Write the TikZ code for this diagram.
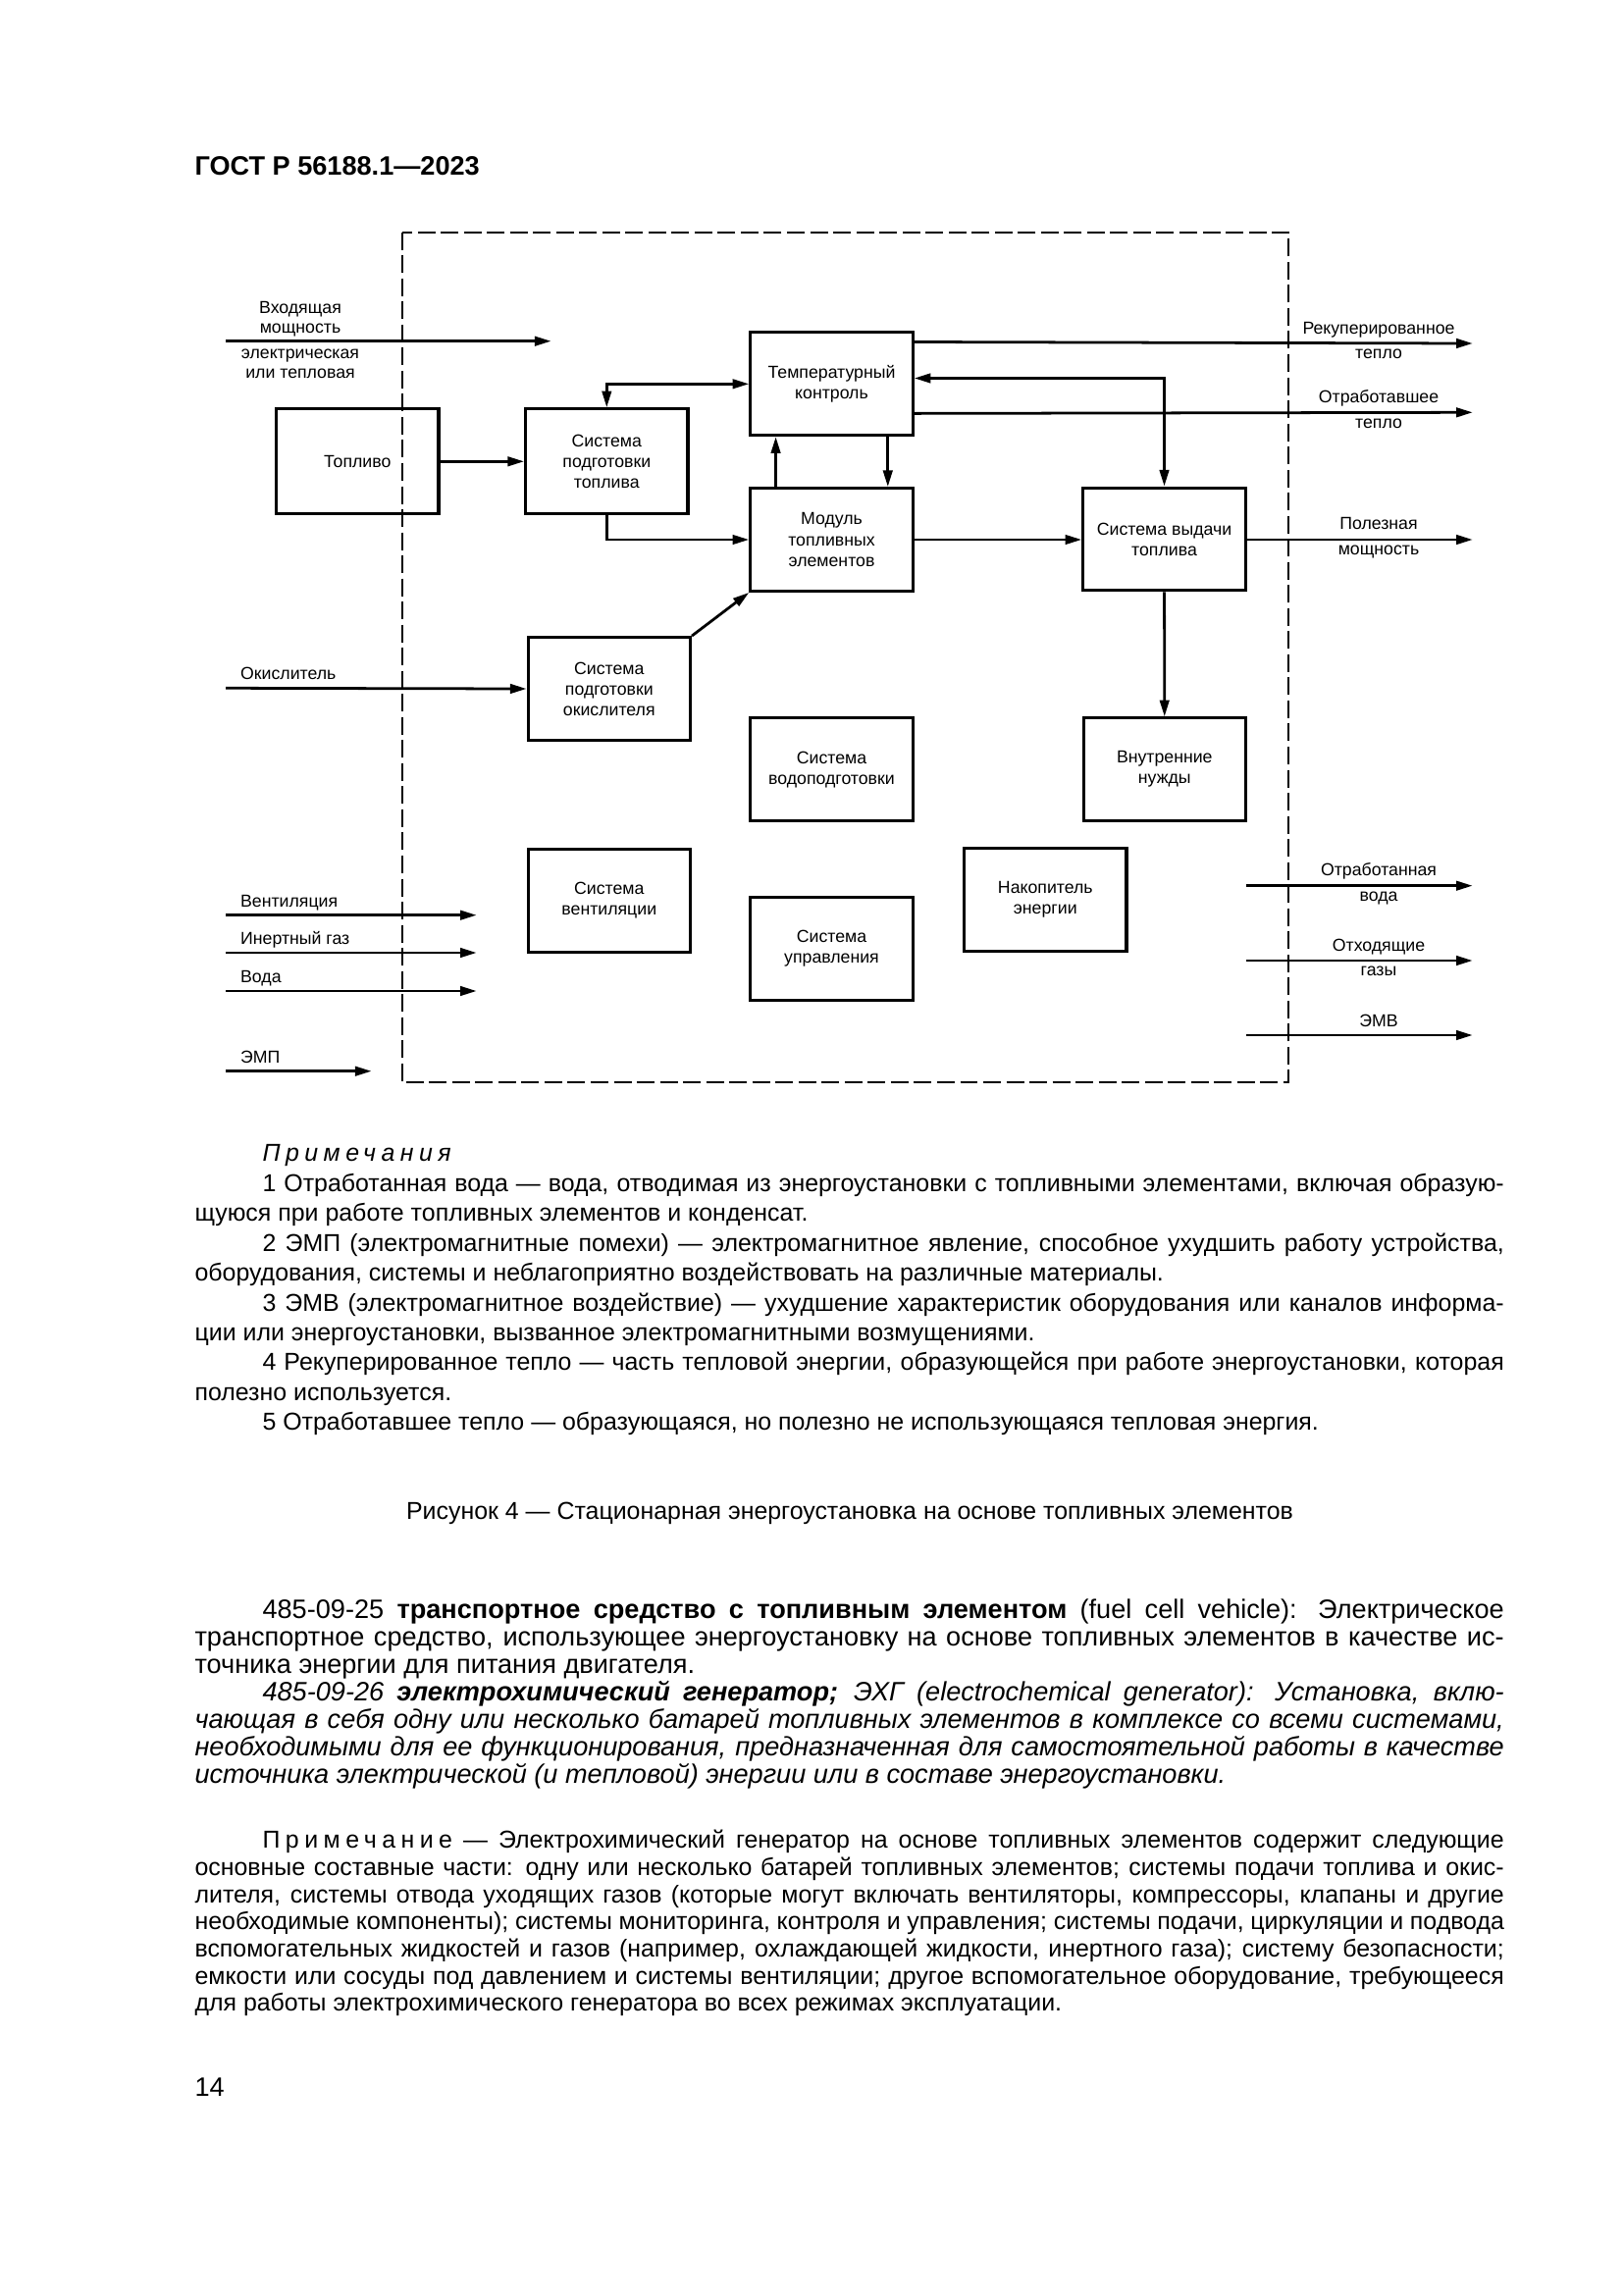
\documentclass[tikz,border=0pt]{standalone}
\usepackage{fontspec}
\setmainfont{Liberation Sans}
\usetikzlibrary{arrows.meta,calc}
\newcommand{\diagfont}{\fontsize{6.4}{7.6}\selectfont}
\newcommand{\notefont}{\fontsize{9}{11}\selectfont}
\newcommand{\bodyfont}{\fontsize{9.8}{10.1}\selectfont}
\newcommand{\spaced}[1]{{\addfontfeature{LetterSpace=22}#1}}
\tolerance=9999
\emergencystretch=3em
\hyphenpenalty=10000
\exhyphenpenalty=10000

\begin{document}
\begin{tikzpicture}[x=0.12697mm,y=-0.12697mm,>={Triangle[length=6pt,width=3.4pt]}]
    \tikzstyle{block}=[draw,line width=1.1pt,minimum width=21mm,minimum height=13.3mm,inner sep=0pt,align=center,font=\diagfont]
    \tikzstyle{flow}=[->,line width=1pt]
    \tikzstyle{annot}=[inner sep=0pt,font=\diagfont]
    \tikzstyle{boundary}=[line width=0.6pt,dash pattern=on 6.5pt off 2pt]
    \tikzstyle{para}=[anchor=base west,inner sep=0pt,text width=169.4mm,align=justify]

    % page
    \fill[white] (0,0) rectangle (1654,2339);
    \useasboundingbox (0,0) rectangle (1654,2339);
    \node[anchor=base west,inner sep=0pt,font=\bfseries\fontsize{9.8}{12}\selectfont] (header) at (198,178.3) {ГОСТ Р 56188.1—2023};

    % Draw the plant boundary
    \draw[boundary] (409.8,236.7) rectangle (1313,1103.3);

    % Draw the blocks
    \node[block,minimum height=13.6mm] (fuel) at (364.3,470.3) {Топливо};
    \node[block,minimum height=13.6mm] (fuelprep) at (618.3,470.3) {Система\\подготовки\\топлива};
    \node[block] (tempctl) at (847.5,391.3) {Температурный\\контроль};
    \node[block] (fcmodule) at (847.5,550) {Модуль\\топливных\\элементов};
    \node[block] (output) at (1186.5,549.5) {Система выдачи\\топлива};
    \node[block] (oxprep) at (620.8,702) {Система\\подготовки\\окислителя};
    \node[block] (waterprep) at (847.5,784.2) {Система\\водоподготовки};
    \node[block] (internal) at (1186.8,784.2) {Внутренние\\нужды};
    \node[block] (vent) at (620.8,917.9) {Система\\вентиляции};
    \node[block] (control) at (847.5,966.7) {Система\\управления};
    \node[block] (storage) at (1065.3,917.2) {Накопитель\\энергии};

    % Connect the blocks
    \draw[flow] (fuel) -- (fuelprep);
    \draw[flow,<->] (fuelprep.north) |- (tempctl.west);
    \draw[flow] (fuelprep.south) |- (fcmodule.west);
    \draw[flow] ($(fcmodule.north west)!0.162!(fcmodule.north east)$) -- ($(tempctl.south west)!0.162!(tempctl.south east)$);
    \draw[flow] ($(tempctl.south west)!0.84!(tempctl.south east)$) -- ($(fcmodule.north west)!0.84!(fcmodule.north east)$);
    \draw[flow] (fcmodule.east) -- (output.west |- fcmodule.east);
    \draw[flow,<->] ($(tempctl.north east)!0.446!(tempctl.south east)$) -| (output.north);
    \draw[flow] (output) -- (internal);
    \draw[flow] (oxprep.north east) -- (fcmodule.south west);

    % Inputs
    \coordinate (pwr-in) at (230,347.7);
    \coordinate (pwr-out) at (561.6,347.7);
    \draw[flow] (pwr-in) -- (pwr-out);
    \node[annot,align=center,anchor=base,font=\fontsize{6.4}{7.3}\selectfont] (pwr-top) at (306,339.6) {Входящая\\мощность};
    \node[annot,align=center,anchor=base,font=\fontsize{6.4}{7.1}\selectfont] (pwr-bot) at (306,385.6) {электрическая\\или тепловая};

    \coordinate (ox-in) at (230,701.3);
    \draw[flow] (ox-in) -- (oxprep.west);
    \node[annot,anchor=base west] (ox-lbl) at (244.6,692.5) {Окислитель};

    \foreach \name/\y/\txt in {vent/932.7/Вентиляция,inert/971/Инертный газ,water/1010/Вода}
    {
        \coordinate (\name-in) at (230,\y);
        \coordinate (\name-out) at (485.7,\y);
        \draw[flow] (\name-in) -- (\name-out);
        \node[annot,anchor=base west] (\name-lbl) at (244.6,\y-8.6) {\txt};
    }

    \coordinate (emp-in) at (230,1091.7);
    \coordinate (emp-out) at (378.6,1091.7);
    \draw[flow] (emp-in) -- (emp-out);
    \node[annot,anchor=base west] (emp-lbl) at (244.6,1083.1) {ЭМП};

    % Outputs
    \coordinate (recov-out) at (1500.8,350);
    \draw[flow] ($(tempctl.north east)!0.103!(tempctl.south east)$) -- (recov-out);
    \node[annot,anchor=base] (recov-top) at (1405,340.3) {Рекуперированное};
    \node[annot,anchor=base] (recov-bot) at (1405,365.2) {тепло};

    \coordinate (waste-out) at (1500.8,420.3);
    \draw[flow] ($(tempctl.north east)!0.779!(tempctl.south east)$) -- (waste-out);
    \node[annot,anchor=base] (waste-top) at (1405,410.3) {Отработавшее};
    \node[annot,anchor=base] (waste-bot) at (1405,436.2) {тепло};

    \coordinate (power-out) at (1500.8,550);
    \draw[flow] (output.east |- power-out) -- (power-out);
    \node[annot,anchor=base] (power-top) at (1405,539.5) {Полезная};
    \node[annot,anchor=base] (power-bot) at (1405,565.5) {мощность};

    \foreach \name/\y/\top/\bot in {wwater/902.7/Отработанная/вода,exhaust/979/Отходящие/газы}
    {
        \coordinate (\name-in) at (1269.6,\y);
        \coordinate (\name-out) at (1500.7,\y);
        \draw[flow] (\name-in) -- (\name-out);
        \node[annot,anchor=base] (\name-top) at (1405,\y-10) {\top};
        \node[annot,anchor=base] (\name-bot) at (1405,\y+15.9) {\bot};
    }

    \coordinate (emv-in) at (1269.6,1055);
    \coordinate (emv-out) at (1500.7,1055);
    \draw[flow] (emv-in) -- (emv-out);
    \node[annot,anchor=base] (emv-lbl) at (1405,1046.5) {ЭМВ};

    % Notes and caption
    \node[anchor=base west,inner sep=0pt,font=\notefont\itshape] (notes-title) at (267,1183.8) {\spaced{Примечания}};
    \node[para,font=\notefont] (notes) at (198,1214.2) {\hspace*{8.76mm}1~Отработанная вода — вода, отводимая из энергоустановки с топливными элементами, включая образую-\linebreak щуюся при работе топливных элементов и конденсат.\par
    \hspace*{8.76mm}2~ЭМП (электромагнитные помехи) — электромагнитное явление, способное ухудшить работу устройства,\linebreak оборудования, системы и неблагоприятно воздействовать на различные материалы.\par
    \hspace*{8.76mm}3~ЭМВ (электромагнитное воздействие) — ухудшение характеристик оборудования или каналов информа-\linebreak ции или энергоустановки, вызванное электромагнитными возмущениями.\par
    \hspace*{8.76mm}4~Рекуперированное тепло — часть тепловой энергии, образующейся при работе энергоустановки, которая\linebreak полезно используется.\par
    \hspace*{8.76mm}5~Отработавшее тепло — образующаяся, но полезно не использующаяся тепловая энергия.};
    \node[anchor=base,inner sep=0pt,font=\notefont] (caption) at (866,1548.8) {Рисунок 4 — Стационарная энергоустановка на основе топливных элементов};

    % Definitions
    \node[para,font=\bodyfont] (def25) at (198,1649.5) {\hspace*{8.76mm}485-09-25 \textbf{транспортное средство с топливным элементом} (fuel cell vehicle): Электрическое\linebreak транспортное средство, использующее энергоустановку на основе топливных элементов в качестве ис-\linebreak точника энергии для питания двигателя.};
    \node[para,font=\bodyfont\itshape] (def26) at (198,1733.8) {\hspace*{8.76mm}485-09-26 \textbf{электрохимический генератор;} ЭХГ (electrochemical generator): Установка, вклю-\linebreak чающая в себя одну или несколько батарей топливных элементов в комплексе со всеми системами,\linebreak необходимыми для ее функционирования, предназначенная для самостоятельной работы в качестве\linebreak источника электрической (и тепловой) энергии или в составе энергоустановки.};
    \node[para,font=\fontsize{9}{10}\selectfont] (def26-note) at (198,1883.8) {\hspace*{8.76mm}\spaced{Примечание} — Электрохимический генератор на основе топливных элементов содержит следующие\linebreak основные составные части: одну или несколько батарей топливных элементов; системы подачи топлива и окис-\linebreak лителя, системы отвода уходящих газов (которые могут включать вентиляторы, компрессоры, клапаны и другие\linebreak необходимые компоненты); системы мониторинга, контроля и управления; системы подачи, циркуляции и подвода\linebreak вспомогательных жидкостей и газов (например, охлаждающей жидкости, инертного газа); систему безопасности;\linebreak емкости или сосуды под давлением и системы вентиляции; другое вспомогательное оборудование, требующееся\linebreak для работы электрохимического генератора во всех режимах эксплуатации.};

    \node[anchor=base west,inner sep=0pt,font=\fontsize{9.8}{12}\selectfont] (pagenum) at (198,2136) {14};
\end{tikzpicture}
\end{document}
